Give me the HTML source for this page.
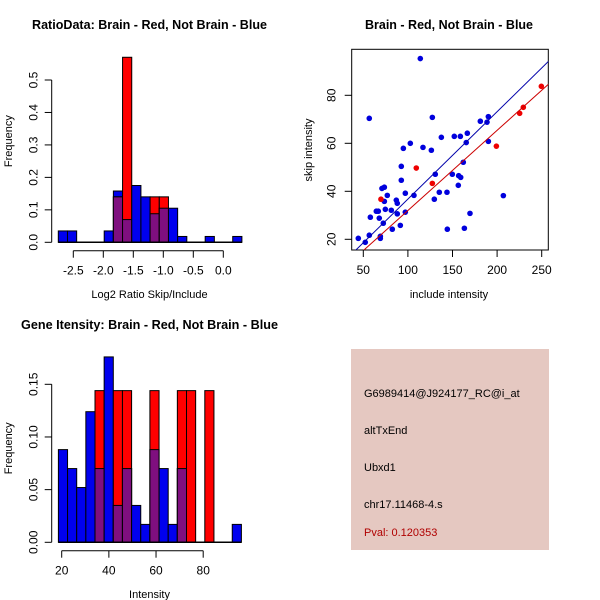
<!DOCTYPE html>
<html><head><meta charset="utf-8"><style>
body{margin:0;background:#fff}
svg{display:block;font-family:"Liberation Sans",sans-serif}
</style></head><body>
<svg id="c" width="600" height="600" viewBox="0 0 600 600" xmlns="http://www.w3.org/2000/svg">
<rect width="600" height="600" fill="#fff"/>
<text x="149.5" y="29" text-anchor="middle" font-size="13" font-weight="bold" textLength="235" lengthAdjust="spacingAndGlyphs">RatioData: Brain - Red, Not Brain - Blue</text>
<text x="449" y="29" text-anchor="middle" font-size="13" font-weight="bold" textLength="168" lengthAdjust="spacingAndGlyphs">Brain - Red, Not Brain - Blue</text>
<text x="149.5" y="329" text-anchor="middle" font-size="13" font-weight="bold" textLength="257" lengthAdjust="spacingAndGlyphs">Gene Itensity: Brain - Red, Not Brain - Blue</text>
<g id="p1"></g>
<g id="p2"></g>
<g id="p3"></g>
<g>
<rect x="351" y="349" width="198" height="201" fill="#e5c8c1"/>
<text x="364" y="397" font-size="11">G6989414@J924177_RC@i_at</text>
<text x="364" y="434" font-size="11">altTxEnd</text>
<text x="364" y="471" font-size="11">Ubxd1</text>
<text x="364" y="508" font-size="11">chr17.11468-4.s</text>
<text x="364" y="536" font-size="11" fill="#b00000">Pval: 0.120353</text>
</g>
</svg>
<script>
// Ratio histogram data
const ratioStart = -2.75, ratioWidth = 0.153;
const ratioBlue = [0.035,0.035,0,0,0,0.035,0.158,0.07,0.175,0.14,0.088,0.105,0.105,0.018,0,0,0.018,0,0,0.018];
const ratioRed  = [0,0,0,0,0,0,0.14,0.57,0,0,0.14,0.14,0,0,0,0,0,0,0,0];
const ratioXTicks = [-2.5,-2.0,-1.5,-1.0,-0.5,0.0];
const ratioXTickLabels = ["-2.5","-2.0","-1.5","-1.0","-0.5","0.0"];
const ratioYTicks = [0,0.1,0.2,0.3,0.4,0.5];
const ratioYTickLabels = ["0.0","0.1","0.2","0.3","0.4","0.5"];
// Scatter data
const blueX = [113.9,56.7,127.4,190.2,181.2,188.7,166.6,165.4,190.2,152,158.8,137.5,102.7,94.9,116.9,126.3,92.6,92.6,130.7,149.8,156.9,159.2,162.1,156.5,135.2,143.8,129.6,169.6,207,97.1,106.8,76.9,70.9,73.6,73.6,87,88.1,74.7,81.4,64.6,66.8,88.1,97.1,57.9,67.9,72.4,91.5,82.5,144.2,163.3,56.7,44.4,52.2,69.1,69.1];
const blueY = [95.3,70.4,70.8,71.1,69.2,68.8,64.2,60.3,60.8,62.9,62.9,62.5,60,57.9,58.3,57.1,50.4,44.6,47.1,47.1,46.5,45.8,52.1,42.5,39.6,39.6,36.7,30.8,38.2,39.2,38.3,38.3,41.2,41.7,35.8,36.3,35,32.5,32.1,31.7,31.7,30.6,31.3,29.2,28.8,26.7,25.8,24.2,24.2,24.6,21.7,20.4,18.75,21.25,20.4];
const redX = [69.8,109.4,127.4,199.2,225.3,229.4,249.6];
const redY = [36.7,49.7,43.3,58.8,72.5,75,83.75];
const blueFit = [0.37,0.364]; // intercept, slope
const redFit = [-1.4,0.334];
const scatXTicks = [50,100,150,200,250];
const scatYTicks = [20,40,60,80];
// Intensity histogram data
const intStart = 18.6, intWidth = 3.88;
const intBlue = [0.088,0.07,0.052,0.124,0.07,0.176,0.035,0.07,0.035,0.017,0.088,0.07,0.017,0.07,0,0,0,0,0,0.017];
const intRed  = [0,0,0,0,0.144,0,0.144,0.144,0,0,0.144,0,0,0.144,0.144,0,0.144,0,0,0];
const intXTicks = [20,40,60,80];
const intYTicks = [0,0.05,0.10,0.15];
const intYTickLabels = ["0.00","0.05","0.10","0.15"];

const NS = "http://www.w3.org/2000/svg";
function mk(parent, tag, attrs, text){
  const e = document.createElementNS(NS, tag);
  for (const k in attrs) e.setAttribute(k, attrs[k]);
  if (text !== undefined) e.textContent = text;
  parent.appendChild(e);
  return e;
}
const BLUE="#0000ee", RED="#ff0000", PURPLE="#7f0f7f";

function drawHist(g, start, width, blue, red, xs, ys, xTicks, xLabels, yTicks, yLabels, xAxisY, yAxisX, xTitle, xTitleY){
  for (let i=0;i<blue.length;i++){
    const x0 = xs(start+i*width), x1 = xs(start+(i+1)*width);
    const b = blue[i], r = red[i];
    if (b>0){
      const e = mk(g,"rect",{x:x0,y:ys(b),width:x1-x0,height:ys(0)-ys(b),fill:BLUE,stroke:"#000","stroke-width":1});
      
      
    }
    if (r>0){
      const e = mk(g,"rect",{x:x0,y:ys(r),width:x1-x0,height:ys(0)-ys(r),fill:RED,stroke:"#000","stroke-width":1});
      
      
      const m = Math.min(b,r);
      if (m>0){
        const p = mk(g,"rect",{x:x0,y:ys(m),width:x1-x0,height:ys(0)-ys(m),fill:PURPLE,stroke:"#000","stroke-width":1});
        
        
      }
    }
  }
  const bl = mk(g,"line",{x1:xs(start),x2:xs(start+blue.length*width),y1:ys(0),y2:ys(0),stroke:"#000","stroke-width":1.5});
  
  
  const xa = mk(g,"line",{x1:xs(xTicks[0]),x2:xs(xTicks[xTicks.length-1]),y1:xAxisY,y2:xAxisY,stroke:"#000"});
  
  
  xTicks.forEach((t,i)=>{
    mk(g,"line",{x1:xs(t),x2:xs(t),y1:xAxisY,y2:xAxisY+7,stroke:"#000"});
    const tl = mk(g,"text",{x:xs(t),y:xAxisY+24,"font-size":12,"text-anchor":"middle"},xLabels[i]);
    
    
  });
  const ya = mk(g,"line",{x1:yAxisX,x2:yAxisX,y1:ys(yTicks[0]),y2:ys(yTicks[yTicks.length-1]),stroke:"#000"});
  
  
  yTicks.forEach((t,i)=>{
    mk(g,"line",{x1:yAxisX-7,x2:yAxisX,y1:ys(t),y2:ys(t),stroke:"#000"});
    const tl = mk(g,"text",{x:0,y:0,"font-size":12,"text-anchor":"middle",transform:`translate(${yAxisX-14},${ys(t)}) rotate(-90)`},yLabels[i]);
    
    
  });
  const xt = mk(g,"text",{x:149.5,y:xTitleY,"font-size":11,"text-anchor":"middle"},xTitle);
  
  
  const yt = mk(g,"text",{x:0,y:0,"font-size":11,"text-anchor":"middle",transform:`translate(12,${(ys(yTicks[0])+ys(yTicks[yTicks.length-1]))/2+ (yTicks.length>4?-20:-15)}) rotate(-90)`},"Frequency");
  
  
}

{
  const g = document.getElementById("p1");
  const xs = v => 223.3 + 60*v;
  const ys = v => 242.3 - 324.6*v;
  drawHist(g, ratioStart, ratioWidth, ratioBlue, ratioRed, xs, ys, ratioXTicks, ratioXTickLabels, ratioYTicks, ratioYTickLabels, 250.7, 51.7, "Log2 Ratio Skip/Include", 298);
}
{
  const g = document.getElementById("p3");
  const xs = v => 61.7 + 2.3583*(v-20);
  const ys = v => 542.3 - 1053.3*v;
  drawHist(g, intStart, intWidth, intBlue, intRed, xs, ys, intXTicks, intXTicks.map(String), intYTicks, intYTickLabels, 550.7, 51.7, "Intensity", 598);
}
{
  const g = document.getElementById("p2");
  const L=351.7,R=548.3,T=49.3,B=250;
  const xs = v => 363.3 + 0.892*(v-50);
  const ys = v => 239.3 - 2.4*(v-20);
  const clip = mk(g,"clipPath",{id:"sc"});
  mk(clip,"rect",{x:L,y:T,width:R-L,height:B-T});
  const box = mk(g,"rect",{x:L,y:T,width:R-L,height:B-T,fill:"none",stroke:"#000"});
  
  
  const pts = mk(g,"g",{"clip-path":"url(#sc)"});
  blueX.forEach((x,i)=>{
    const c = mk(pts,"circle",{cx:xs(x),cy:ys(blueY[i]),r:2.8,fill:"#0000dd"});
    
    
  });
  redX.forEach((x,i)=>{
    const c = mk(pts,"circle",{cx:xs(x),cy:ys(redY[i]),r:2.8,fill:"#ee0000"});
    
    
  });
  const x0=20,x1=300;
  const bl = mk(pts,"line",{x1:xs(x0),y1:ys(blueFit[0]+blueFit[1]*x0),x2:xs(x1),y2:ys(blueFit[0]+blueFit[1]*x1),stroke:"#0000aa","stroke-width":1});
  
  
  const rl = mk(pts,"line",{x1:xs(x0),y1:ys(redFit[0]+redFit[1]*x0),x2:xs(x1),y2:ys(redFit[0]+redFit[1]*x1),stroke:"#cc0000","stroke-width":1});
  
  
  scatXTicks.forEach(t=>{
    mk(g,"line",{x1:xs(t),x2:xs(t),y1:B,y2:B+7,stroke:"#000"});
    const tl = mk(g,"text",{x:xs(t),y:B+24,"font-size":12,"text-anchor":"middle"},String(t));
    
    
  });
  scatYTicks.forEach(t=>{
    mk(g,"line",{x1:L-7,x2:L,y1:ys(t),y2:ys(t),stroke:"#000"});
    const tl = mk(g,"text",{x:0,y:0,"font-size":12,"text-anchor":"middle",transform:`translate(${L-16},${ys(t)}) rotate(-90)`},String(t));
    
    
  });
  const xt = mk(g,"text",{x:449,y:298,"font-size":11,"text-anchor":"middle"},"include intensity");
  
  
  const yt = mk(g,"text",{x:0,y:0,"font-size":11,"text-anchor":"middle",transform:"translate(312,150) rotate(-90)"},"skip intensity");
  
  
}
</script>
</body></html>
